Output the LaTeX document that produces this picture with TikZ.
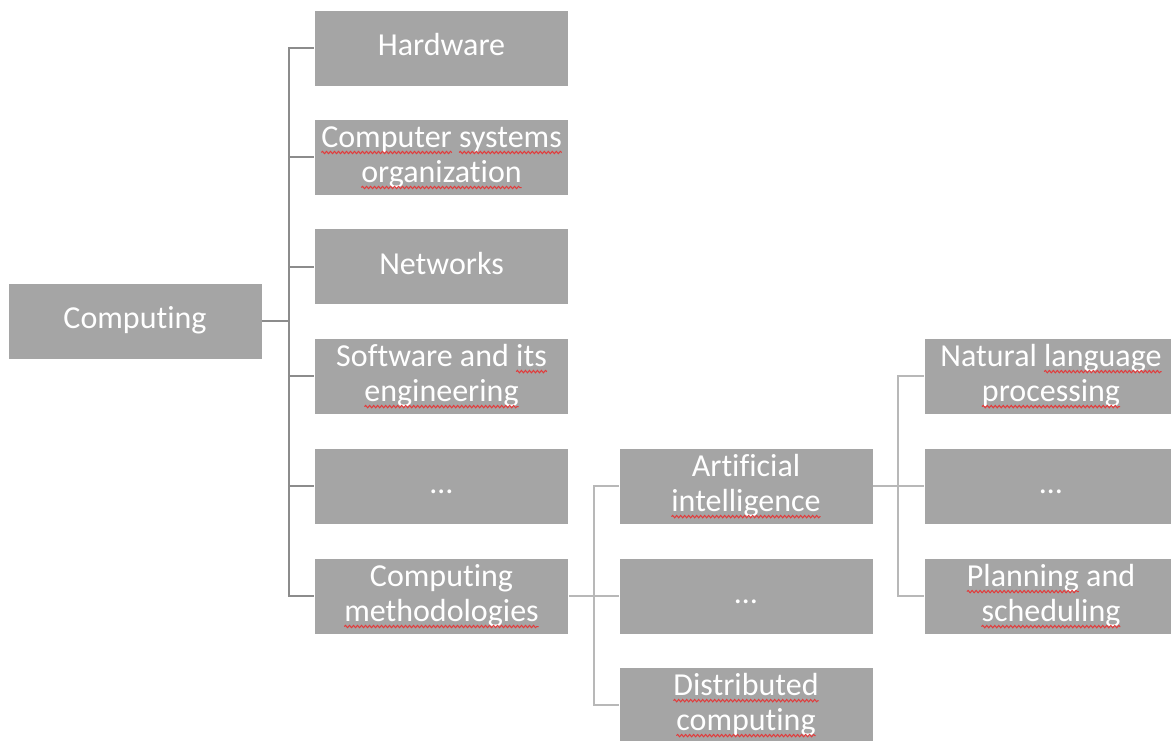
\documentclass[tikz,border=0pt]{standalone}
\usepackage{fontspec}
\setmainfont{Carlito}[Ligatures=NoCommon]
\usetikzlibrary{decorations.pathmorphing}
\definecolor{boxgray}{HTML}{A5A5A5}
\definecolor{linedark}{HTML}{8C8C8C}
\definecolor{linelight}{HTML}{B8B8B8}
\definecolor{sqred}{HTML}{E23B3B}
\newcommand\sq[1]{\tikz[baseline=(w.base)]{%
  \node[inner sep=0pt, outer sep=0pt, minimum width=0pt, minimum height=0pt,
    fill=none, draw=none, text=white] (w) {#1};
  \draw[overlay, sqred, line width=1pt,
    decorate, decoration={snake, segment length=4pt, amplitude=1.2pt}]
    ([yshift=-5.5pt]w.base west) -- ([yshift=-5.5pt]w.base east);}}
\newcommand\stru{\rule[-7pt]{0pt}{29pt}}
\begin{document}
\begin{tikzpicture}[x=1pt,y=-1pt,
  box/.style={fill=boxgray, draw=white, line width=0.6pt, minimum width=254pt,
    minimum height=76pt, inner sep=0pt, text=white, align=center,
    font=\fontsize{32}{35}\selectfont},
  connA/.style={draw=linedark, line width=2pt},
  connB/.style={draw=linelight, line width=2pt}]
\clip (0,0) rectangle (1171,740);
\useasboundingbox (0,0) rectangle (1171,740);
\fill[white] (0,0) rectangle (1171,740);
% root
\node[box] (root) at (135,321) {\stru Computing};
% level 1
\node[box] (hw)  at (441.5,48)    {\stru Hardware};
\node[box] (cso) at (441.5,157)   {\stru\sq{Computer} \sq{systems}\\ \sq{organization}\stru};
\node[box] (net) at (441.5,266.5) {\stru Networks};
\node[box] (sw)  at (441.5,376)   {\stru Software and \sq{its}\\ \sq{engineering}\stru};
\node[box] (da)  at (441.5,486)   {\stru …};
\node[box] (cm)  at (441.5,596)   {\stru Computing\\ \sq{methodologies}\stru};
% level 2
\node[box] (ai)  at (746,486) {\stru Artificial\\ \sq{intelligence}\stru};
\node[box] (db)  at (746,596) {\stru …};
\node[box] (dc)  at (746,705) {\stru \sq{Distributed}\\ \sq{computing}\stru};
% level 3
\node[box] (nlp) at (1051,376) {\stru Natural \sq{language}\\ \sq{processing}\stru};
\node[box] (dd)  at (1051,486) {\stru …};
\node[box] (ps)  at (1051,596) {\stru \sq{Planning} and\\ \sq{scheduling}\stru};
% junctions
\coordinate (ja) at (289,321);
\coordinate (jb) at (594,596);
\coordinate (jc) at (898,486);
% connectors
\draw[connA] (root.east) -- (ja);
\foreach \n in {hw,cso,net,sw,da,cm} \draw[connA] (ja) |- (\n.west);
\draw[connB] (cm.east) -- (jb);
\foreach \n in {ai,db,dc} \draw[connB] (jb) |- (\n.west);
\draw[connB] (ai.east) -- (jc);
\foreach \n in {nlp,dd,ps} \draw[connB] (jc) |- (\n.west);
\end{tikzpicture}
\end{document}
